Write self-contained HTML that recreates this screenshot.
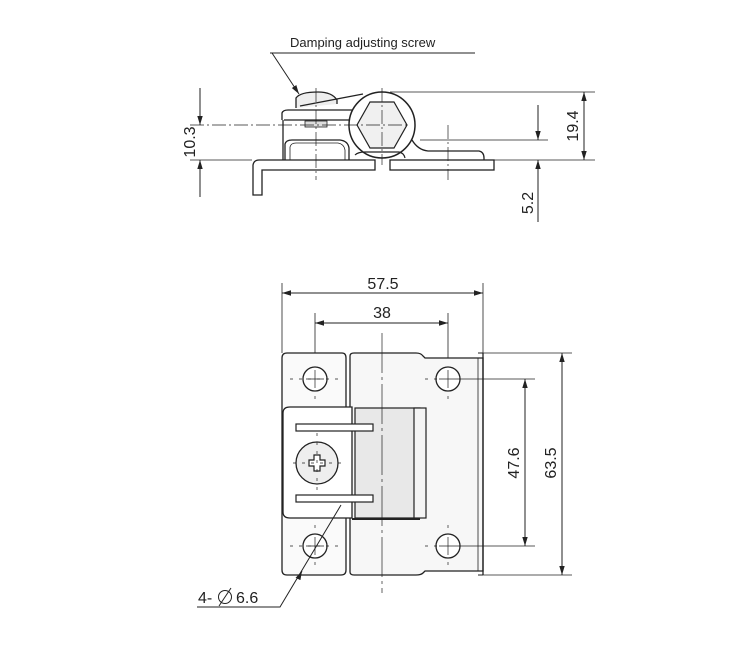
<!DOCTYPE html>
<html><head><meta charset="utf-8"><style>
html,body{margin:0;padding:0;background:#fff;width:750px;height:650px;overflow:hidden}
svg{display:block}
text{font-family:"Liberation Sans",sans-serif;fill:#222}
</style></head><body>
<svg width="750" height="650" viewBox="0 0 750 650" xmlns="http://www.w3.org/2000/svg">
<defs>
<marker id="a" viewBox="0 0 10 10" refX="10" refY="5" markerWidth="9" markerHeight="9" orient="auto-start-reverse" markerUnits="userSpaceOnUse"><path d="M0,2 L10,5 L0,8 z" fill="#222"/></marker>
</defs>
<g stroke="#222" stroke-width="1" fill="none">
<!-- TOP VIEW -->
<line x1="270" y1="53" x2="475" y2="53"/>
<line x1="272" y1="53" x2="299" y2="94" marker-end="url(#a)"/>
<path d="M296,108 L296,98 Q300,92 318,92 Q332,92 337,100 L337,104" fill="#eee" stroke-width="1.3"/>
<path d="M282,120 L282,113 Q283,110 288,110 L352,110" stroke-width="1.3"/>
<line x1="284" y1="120" x2="352" y2="120" stroke-width="1.3"/>
<line x1="300" y1="106" x2="363" y2="94" stroke-width="1.2"/>
<rect x="305" y="121" width="22" height="6" fill="#ddd" stroke-width="0.8"/>
<line x1="283" y1="120" x2="283" y2="160" stroke-width="1.3"/>
<path d="M285,160 L285,144 Q286,140 292,140 L340,140 Q348,141 349,148 L349,160" stroke-width="1.3"/>
<path d="M290,160 L290,147 Q291,143 296,143 L338,143 Q344,144 345,150 L345,160" stroke-width="0.8"/>
<circle cx="382" cy="125" r="33" fill="#fff" stroke-width="1.5"/>
<polygon points="370,102 394,102 407,125 394,148 370,148 357,125" fill="#f0f0f0" stroke-width="1.2"/>
<path d="M412,140 Q418,150 428,151 L479,151 Q484,152 484,158 L484,160" stroke-width="1.3"/>
<path d="M355,155 Q358,152 365,152 L399,152 Q404,153 405,158" stroke-width="1.2"/>
<path d="M253,195 L253,165 Q254,160 259,160 L375,160 L375,170 L262,170 L262,195 Z" fill="#fff" stroke-width="1.3"/>
<rect x="390" y="160" width="104" height="10" fill="#fff" stroke-width="1.3"/>
<g stroke-width="0.7" stroke-dasharray="14,3,2,3">
<line x1="316" y1="88" x2="316" y2="180"/>
<line x1="382" y1="88" x2="382" y2="165"/>
<line x1="448" y1="125" x2="448" y2="180"/>
<line x1="190" y1="125" x2="410" y2="125"/>
</g>
<line x1="390" y1="92" x2="595" y2="92" stroke-width="0.8"/>
<line x1="420" y1="140" x2="548" y2="140" stroke-width="0.8"/>
<line x1="190" y1="160" x2="252" y2="160" stroke-width="0.8"/>
<line x1="490" y1="160" x2="595" y2="160" stroke-width="0.8"/>
<line x1="200" y1="88" x2="200" y2="125" marker-end="url(#a)"/>
<line x1="200" y1="197" x2="200" y2="160" marker-end="url(#a)"/>
<line x1="584" y1="92" x2="584" y2="160" marker-start="url(#a)" marker-end="url(#a)"/>
<line x1="538" y1="105" x2="538" y2="140" marker-end="url(#a)"/>
<line x1="538" y1="222" x2="538" y2="160" marker-end="url(#a)"/>

<!-- BOTTOM VIEW -->
<line x1="282" y1="283" x2="282" y2="353" stroke-width="0.8"/>
<line x1="483" y1="283" x2="483" y2="353" stroke-width="0.8"/>
<line x1="282" y1="293" x2="483" y2="293" marker-start="url(#a)" marker-end="url(#a)"/>
<line x1="315" y1="313" x2="315" y2="370" stroke-width="0.8"/>
<line x1="448" y1="313" x2="448" y2="370" stroke-width="0.8"/>
<line x1="315" y1="323" x2="448" y2="323" marker-start="url(#a)" marker-end="url(#a)"/>
<path d="M282,358 Q282,353 287,353 L342,353 Q346,353 346,358 L346,570 Q346,575 341,575 L287,575 Q282,575 282,570 Z" fill="#fafafa" stroke-width="1.3"/>
<!-- right plate -->
<path d="M350,356 Q350,353 354,353 L416,353 Q421,353 423,356 L425,358 L483,358 L483,571 L425,571 L423,573 Q421,575 416,575 L354,575 Q350,575 350,572 Z" fill="#f7f7f7" stroke-width="1.3"/>
<line x1="478" y1="358" x2="478" y2="571" stroke-width="0.8"/>
<line x1="483" y1="353" x2="483" y2="575" stroke-width="1.3"/>
<line x1="478" y1="353" x2="483" y2="353" stroke-width="1"/>
<line x1="478" y1="575" x2="483" y2="575" stroke-width="1"/>
<path d="M283,413 Q283,407 290,407 L352,407 L352,518 L290,518 Q283,518 283,512 Z" fill="#fff" stroke-width="1.3"/>
<rect x="355" y="408" width="65" height="110" fill="#e8e8e8" stroke-width="1.2"/>
<rect x="414" y="408" width="12" height="110" fill="#f4f4f4" stroke-width="1.2"/>
<line x1="352" y1="519" x2="420" y2="519" stroke-width="2"/>
<rect x="296" y="424" width="77" height="7" fill="#fff" stroke-width="1.2"/>
<rect x="296" y="495" width="77" height="7" fill="#fff" stroke-width="1.2"/>
<circle cx="317" cy="463" r="21" fill="#eee" stroke-width="1.3"/>
<path d="M314,455 h6 v5 h5 v6 h-5 v5 h-6 v-5 h-5 v-6 h5 z" fill="#fff" stroke-width="1.2"/>
<circle cx="315" cy="379" r="12" fill="#fff" stroke-width="1.3"/>
<circle cx="448" cy="379" r="12" fill="#fff" stroke-width="1.3"/>
<circle cx="315" cy="546" r="12" fill="#fff" stroke-width="1.3"/>
<circle cx="448" cy="546" r="12" fill="#fff" stroke-width="1.3"/>
<g stroke-width="0.7">
<line x1="315" y1="370" x2="315" y2="388"/><line x1="306" y1="379" x2="324" y2="379"/>
<line x1="448" y1="370" x2="448" y2="388"/><line x1="439" y1="379" x2="457" y2="379"/>
<line x1="315" y1="537" x2="315" y2="555"/><line x1="306" y1="546" x2="324" y2="546"/>
<line x1="448" y1="537" x2="448" y2="555"/><line x1="439" y1="546" x2="457" y2="546"/>
</g>
<g stroke-width="0.7" stroke-dasharray="3,6">
<line x1="290" y1="379" x2="340" y2="379"/><line x1="315" y1="396" x2="315" y2="400"/>
<line x1="290" y1="546" x2="340" y2="546"/><line x1="315" y1="525" x2="315" y2="530"/><line x1="315" y1="562" x2="315" y2="568"/>
<line x1="425" y1="546" x2="440" y2="546"/><line x1="448" y1="562" x2="448" y2="568"/><line x1="448" y1="525" x2="448" y2="530"/>
<line x1="425" y1="379" x2="440" y2="379"/><line x1="448" y1="396" x2="448" y2="400"/>
<line x1="293" y1="463" x2="345" y2="463"/><line x1="317" y1="433" x2="317" y2="490"/>
</g>
<line x1="382" y1="333" x2="382" y2="593" stroke-width="0.7" stroke-dasharray="40,4,3,4"/>
<line x1="457" y1="379" x2="535" y2="379" stroke-width="0.8"/>
<line x1="457" y1="546" x2="535" y2="546" stroke-width="0.8"/>
<line x1="525" y1="379" x2="525" y2="546" marker-start="url(#a)" marker-end="url(#a)"/>
<line x1="483" y1="353" x2="572" y2="353" stroke-width="0.8"/>
<line x1="483" y1="575" x2="572" y2="575" stroke-width="0.8"/>
<line x1="562" y1="353" x2="562" y2="575" marker-start="url(#a)" marker-end="url(#a)"/>
<polyline points="197,607 280,607 341,505"/>
<line x1="300" y1="575" x2="302" y2="571" marker-end="url(#a)"/>
</g>
<text x="290" y="47" font-size="13">Damping adjusting screw</text>
<text transform="translate(195,142) rotate(-90)" font-size="16" text-anchor="middle">10.3</text>
<text transform="translate(578,126) rotate(-90)" font-size="16" text-anchor="middle">19.4</text>
<text transform="translate(533,203) rotate(-90)" font-size="16" text-anchor="middle">5.2</text>
<text x="383" y="289" font-size="16" text-anchor="middle">57.5</text>
<text x="382" y="318" font-size="16" text-anchor="middle">38</text>
<text transform="translate(519,463) rotate(-90)" font-size="16" text-anchor="middle">47.6</text>
<text transform="translate(556,463) rotate(-90)" font-size="16" text-anchor="middle">63.5</text>
<text x="198" y="603" font-size="16">4-</text>
<circle cx="225" cy="597" r="6.5" fill="none" stroke="#222" stroke-width="1"/>
<line x1="219" y1="606" x2="231" y2="588" stroke="#222" stroke-width="1"/>
<text x="236" y="603" font-size="16">6.6</text>
</svg>
</body></html>
